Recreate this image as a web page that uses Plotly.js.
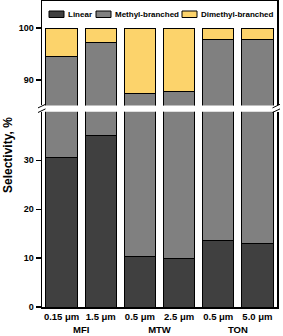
<!DOCTYPE html>
<html><head><meta charset="utf-8">
<script src="https://cdn.plot.ly/plotly-3.0.1.min.js"></script>
<style>html,body{margin:0;padding:0;background:#fff}#c{width:283px;height:336px}</style>
</head><body><div id="c"></div>
<script>
const groups = ['MFI','MFI','MTW','MTW','TON','TON'];
const sizes = ['0.15 μm','1.5 μm','0.5 μm','2.5 μm','0.5 μm','5.0 μm'];
const linear = [30.5, 35.0, 10.4, 10.0, 13.5, 12.9];
const methyl = [64.1, 62.3, 77.0, 77.7, 84.3, 84.9];
const dimethyl = [5.4, 2.7, 12.6, 12.3, 2.2, 2.2];
const seriesNames = ['Linear','Methyl-branched','Dimethyl-branched'];
const seriesColors = ['#404040','#808080','#fcd36b'];
const seriesData = [linear, methyl, dimethyl];

const FONT = 'Liberation Sans, Arial, sans-serif';
const x = [groups, sizes];
const traces = [];
['x','x2'].forEach((xa, k) => {
  seriesData.forEach((vals, i) => {
    traces.push({
      type: 'bar', x: x, y: vals, name: seriesNames[i],
      xaxis: xa, yaxis: k === 0 ? 'y' : 'y2',
      marker: {color: seriesColors[i], line: {color: '#000', width: 1}},
      showlegend: false, hoverinfo: 'skip'
    });
  });
});

// paper helpers (plot area: 235 x 306 px, left 42, top 1)
const px = v => (v - 42) / 235;
const py = v => (307 - v) / 306;

const shapes = [];
const annotations = [];
// legend
const legX = [49, 96, 182];
seriesNames.forEach((n, i) => {
  shapes.push({type: 'rect', xref: 'paper', yref: 'paper',
    x0: px(legX[i]), x1: px(legX[i] + 15), y0: py(17.5), y1: py(11),
    fillcolor: seriesColors[i], line: {color: '#000', width: 1}});
  annotations.push({xref: 'paper', yref: 'paper', x: px(legX[i] + 17), y: py(14.3),
    xanchor: 'left', yanchor: 'middle', showarrow: false, text: n,
    font: {family: FONT, size: 8, weight: 'bold', color: '#000'}});
});
// break marks
[42, 276.5].forEach(ax => {
  [[107.9, 104.3], [112.5, 108.9]].forEach(([ya, yb]) => {
    shapes.push({type: 'line', xref: 'paper', yref: 'paper',
      x0: px(ax - 4), x1: px(ax + 3.5), y0: py(ya), y1: py(yb),
      line: {color: '#000', width: 1}});
  });
});
// y title
annotations.push({xref: 'paper', yref: 'paper', x: px(8), y: py(155),
  xanchor: 'center', yanchor: 'middle', textangle: -90, showarrow: false,
  text: 'Selectivity, %', font: {family: FONT, size: 12, weight: 'bold', color: '#000'}});

const tickfont = {family: FONT, size: 9, weight: 'bold', color: '#000'};
const layout = {
  width: 283, height: 336,
  margin: {l: 42, r: 6, t: 1, b: 29},
  paper_bgcolor: '#fff', plot_bgcolor: '#fff',
  barmode: 'stack', bargap: 0.2,
  showlegend: false,
  xaxis: {type: 'multicategory', anchor: 'y', showline: true, linecolor: '#000', linewidth: 1.5,
    showdividers: false, ticks: '', tickfont: {family: FONT, size: 9.5, weight: 'bold', color: '#000'},
    showgrid: false, zeroline: false},
  xaxis2: {type: 'multicategory', anchor: 'y2', matches: 'x', side: 'top', showline: true,
    linecolor: '#000', linewidth: 1.5, showticklabels: false, showdividers: false, ticks: '',
    showgrid: false, zeroline: false},
  yaxis: {domain: [0, 0.638], range: [0, 39.9], dtick: 10, tick0: 0, showline: true, mirror: true,
    linecolor: '#000', linewidth: 1.5, ticks: 'outside', ticklen: 5, tickwidth: 1.2, tickcolor: '#000',
    tickfont: tickfont, showgrid: false, zeroline: false},
  yaxis2: {domain: [0.6585, 1], range: [85.1, 105.2], dtick: 10, tick0: 0, showline: true, mirror: true,
    linecolor: '#000', linewidth: 1.5, ticks: 'outside', ticklen: 5, tickwidth: 1.2, tickcolor: '#000',
    tickfont: tickfont, showgrid: false, zeroline: false},
  shapes: shapes,
  annotations: annotations
};
Plotly.newPlot('c', traces, layout, {staticPlot: true, displayModeBar: false});
</script></body></html>
